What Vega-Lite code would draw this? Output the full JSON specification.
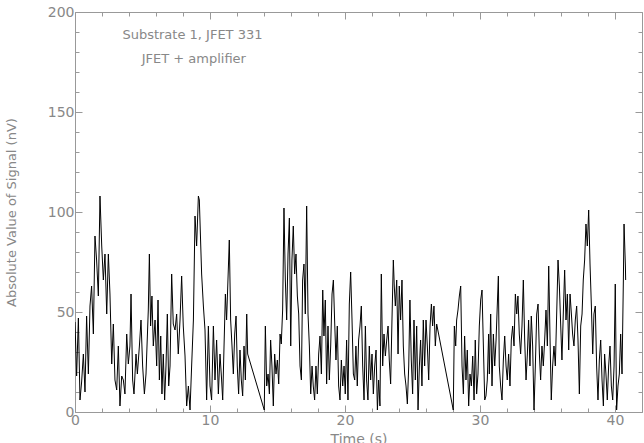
{
  "$schema": "https://vega.github.io/schema/vega-lite/v6.json",
  "width": 567,
  "height": 400,
  "autosize": {"type": "none"},
  "padding": {"left": 75, "top": 12, "right": 2, "bottom": 31},
  "background": "white",
  "config": {
    "view": {"stroke": null},
    "axis": {
      "domainColor": "#999999",
      "tickColor": "#999999",
      "labelColor": "#888888",
      "titleColor": "#888888",
      "labelFont": "DejaVu Sans",
      "titleFont": "DejaVu Sans",
      "labelFontSize": 14,
      "titleFontSize": 14,
      "titleFontWeight": "normal",
      "grid": false,
      "tickWidth": 1,
      "domainWidth": 1,
      "labelFlush": false,
      "labelOverlap": false
    }
  },
  "data": {
    "values": [
      {"t":0,"v":45},{"t":0.12,"v":18},{"t":0.25,"v":47},{"t":0.37,"v":6},{"t":0.49,"v":15},{"t":0.62,"v":29},{"t":0.74,"v":10},{"t":0.86,"v":48},{"t":0.99,"v":19},{"t":1.11,"v":53},{"t":1.23,"v":63},{"t":1.36,"v":39},{"t":1.48,"v":88},{"t":1.6,"v":76},{"t":1.73,"v":58},{"t":1.85,"v":108},{"t":1.98,"v":83},{"t":2.1,"v":66},{"t":2.22,"v":79},{"t":2.35,"v":49},{"t":2.47,"v":79},{"t":2.59,"v":59},{"t":2.72,"v":24},{"t":2.84,"v":44},{"t":2.96,"v":16},{"t":3.09,"v":11},{"t":3.21,"v":33},{"t":3.33,"v":3},{"t":3.46,"v":18},{"t":3.58,"v":16},{"t":3.7,"v":9},{"t":3.83,"v":39},{"t":3.95,"v":24},{"t":4.07,"v":33},{"t":4.15,"v":59},{"t":4.27,"v":16},{"t":4.37,"v":9},{"t":4.52,"v":29},{"t":4.62,"v":19},{"t":4.77,"v":33},{"t":4.89,"v":46},{"t":5.01,"v":23},{"t":5.14,"v":9},{"t":5.26,"v":19},{"t":5.43,"v":51},{"t":5.51,"v":79},{"t":5.6,"v":43},{"t":5.7,"v":58},{"t":5.8,"v":33},{"t":5.93,"v":46},{"t":6.05,"v":23},{"t":6.15,"v":56},{"t":6.25,"v":16},{"t":6.35,"v":38},{"t":6.44,"v":9},{"t":6.54,"v":29},{"t":6.64,"v":6},{"t":6.74,"v":23},{"t":6.84,"v":49},{"t":6.94,"v":13},{"t":7.04,"v":23},{"t":7.16,"v":69},{"t":7.28,"v":44},{"t":7.41,"v":41},{"t":7.53,"v":49},{"t":7.65,"v":29},{"t":7.78,"v":46},{"t":7.9,"v":68},{"t":8.02,"v":43},{"t":8.15,"v":28},{"t":8.27,"v":3},{"t":8.4,"v":13},{"t":8.52,"v":1},{"t":8.64,"v":23},{"t":8.77,"v":46},{"t":8.89,"v":98},{"t":9.01,"v":83},{"t":9.14,"v":108},{"t":9.21,"v":106},
      {"t":9.38,"v":69},{"t":9.51,"v":53},{"t":9.63,"v":41},{"t":9.75,"v":6},{"t":9.88,"v":43},{"t":10,"v":13},{"t":10.12,"v":6},{"t":10.25,"v":43},{"t":10.37,"v":16},{"t":10.49,"v":36},{"t":10.62,"v":9},{"t":10.74,"v":29},{"t":10.86,"v":16},{"t":10.94,"v":6},{"t":11.04,"v":33},{"t":11.14,"v":59},{"t":11.23,"v":46},{"t":11.33,"v":66},{"t":11.43,"v":86},{"t":11.53,"v":46},{"t":11.63,"v":33},{"t":11.73,"v":19},{"t":11.83,"v":39},{"t":11.93,"v":48},{"t":12.02,"v":23},{"t":12.12,"v":9},{"t":12.22,"v":31},{"t":12.32,"v":16},{"t":12.42,"v":8},{"t":12.52,"v":33},{"t":12.62,"v":16},{"t":12.72,"v":49},{"t":12.79,"v":29},{"t":14.02,"v":1},{"t":14.1,"v":43},{"t":14.2,"v":13},{"t":14.3,"v":19},{"t":14.4,"v":9},{"t":14.49,"v":36},{"t":14.59,"v":23},{"t":14.69,"v":3},{"t":14.79,"v":29},{"t":14.89,"v":19},{"t":14.99,"v":26},{"t":15.09,"v":14},{"t":15.19,"v":39},{"t":15.28,"v":34},{"t":15.38,"v":51},{"t":15.48,"v":102},{"t":15.58,"v":66},{"t":15.68,"v":46},{"t":15.78,"v":79},{"t":15.88,"v":97},{"t":15.98,"v":33},{"t":16.07,"v":76},{"t":16.17,"v":93},{"t":16.27,"v":69},{"t":16.37,"v":79},{"t":16.47,"v":58},{"t":16.57,"v":49},{"t":16.67,"v":23},{"t":16.77,"v":16},{"t":16.86,"v":66},{"t":16.96,"v":74},{"t":17.06,"v":49},{"t":17.16,"v":103},{"t":17.26,"v":49},{"t":17.36,"v":33},{"t":17.46,"v":9},{"t":17.56,"v":23},{"t":17.65,"v":13},{"t":17.75,"v":6},{"t":17.85,"v":23},{"t":17.95,"v":9},{"t":18.05,"v":29},{"t":18.15,"v":38},{"t":18.25,"v":19},{"t":18.35,"v":61},{"t":18.44,"v":38},{"t":18.54,"v":56},{"t":18.64,"v":14},{"t":18.74,"v":43},{"t":18.84,"v":16},{"t":18.94,"v":33},{"t":19.04,"v":59},{"t":19.14,"v":66},{"t":19.23,"v":46},{"t":19.33,"v":26},{"t":19.43,"v":43},{"t":19.53,"v":13},{"t":19.63,"v":6},{"t":19.73,"v":26},{"t":19.83,"v":13},{"t":19.93,"v":23},{"t":20.02,"v":9},{"t":20.12,"v":36},{"t":20.22,"v":6},{"t":20.32,"v":54},
      {"t":20.42,"v":70},{"t":20.52,"v":46},{"t":20.62,"v":19},{"t":20.72,"v":16},{"t":20.81,"v":33},{"t":20.91,"v":13},{"t":21.01,"v":36},{"t":21.11,"v":43},{"t":21.21,"v":53},{"t":21.31,"v":23},{"t":21.41,"v":6},{"t":21.51,"v":43},{"t":21.6,"v":16},{"t":21.7,"v":6},{"t":21.8,"v":33},{"t":21.9,"v":16},{"t":22,"v":29},{"t":22.1,"v":9},{"t":22.2,"v":23},{"t":22.3,"v":31},{"t":22.4,"v":1},{"t":22.49,"v":16},{"t":22.59,"v":3},{"t":22.69,"v":69},{"t":22.79,"v":23},{"t":22.89,"v":39},{"t":22.99,"v":28},{"t":23.09,"v":36},{"t":23.19,"v":43},{"t":23.28,"v":26},{"t":23.38,"v":14},{"t":23.48,"v":46},{"t":23.58,"v":76},{"t":23.65,"v":63},{"t":23.73,"v":53},{"t":23.83,"v":66},{"t":23.93,"v":29},{"t":24.02,"v":63},{"t":24.12,"v":46},{"t":24.22,"v":66},{"t":24.32,"v":33},{"t":24.42,"v":19},{"t":24.52,"v":13},{"t":24.62,"v":4},{"t":24.72,"v":23},{"t":24.81,"v":56},{"t":24.91,"v":26},{"t":25.01,"v":9},{"t":25.11,"v":46},{"t":25.21,"v":16},{"t":25.31,"v":43},{"t":25.41,"v":1},{"t":25.51,"v":23},{"t":25.6,"v":36},{"t":25.7,"v":13},{"t":25.8,"v":46},{"t":25.9,"v":23},{"t":26,"v":46},{"t":26.1,"v":33},{"t":26.2,"v":16},{"t":26.3,"v":43},{"t":26.4,"v":54},{"t":26.49,"v":43},{"t":26.59,"v":53},{"t":26.69,"v":33},{"t":26.79,"v":44},{"t":28.02,"v":1},{"t":28.1,"v":43},{"t":28.2,"v":33},{"t":28.27,"v":46},{"t":28.37,"v":51},{"t":28.47,"v":58},{"t":28.57,"v":63},{"t":28.67,"v":23},{"t":28.77,"v":9},{"t":28.86,"v":38},{"t":28.96,"v":16},{"t":29.06,"v":31},{"t":29.16,"v":3},{"t":29.26,"v":19},{"t":29.36,"v":13},{"t":29.46,"v":28},{"t":29.56,"v":6},{"t":29.65,"v":36},{"t":29.75,"v":9},{"t":29.85,"v":19},{"t":29.95,"v":43},{"t":30.05,"v":56},{"t":30.15,"v":61},{"t":30.25,"v":33},{"t":30.35,"v":6},{"t":30.44,"v":8},{"t":30.54,"v":16},{"t":30.64,"v":39},
      {"t":30.69,"v":19},{"t":30.79,"v":49},{"t":30.89,"v":13},{"t":30.99,"v":39},{"t":31.09,"v":23},{"t":31.19,"v":36},{"t":31.28,"v":53},{"t":31.36,"v":68},{"t":31.43,"v":23},{"t":31.53,"v":13},{"t":31.63,"v":6},{"t":31.73,"v":26},{"t":31.83,"v":38},{"t":31.93,"v":23},{"t":32.02,"v":16},{"t":32.12,"v":29},{"t":32.22,"v":13},{"t":32.32,"v":36},{"t":32.42,"v":43},{"t":32.52,"v":33},{"t":32.62,"v":59},{"t":32.72,"v":49},{"t":32.81,"v":58},{"t":32.91,"v":39},{"t":33.01,"v":29},{"t":33.11,"v":43},{"t":33.21,"v":66},{"t":33.31,"v":36},{"t":33.41,"v":16},{"t":33.51,"v":29},{"t":33.6,"v":46},{"t":33.7,"v":23},{"t":33.8,"v":48},{"t":33.9,"v":33},{"t":34,"v":1},{"t":34.1,"v":23},{"t":34.2,"v":49},{"t":34.3,"v":54},{"t":34.4,"v":29},{"t":34.49,"v":16},{"t":34.59,"v":33},{"t":34.69,"v":23},{"t":34.79,"v":36},{"t":34.89,"v":51},{"t":34.99,"v":33},{"t":35.09,"v":73},{"t":35.19,"v":36},{"t":35.28,"v":6},{"t":35.38,"v":23},{"t":35.48,"v":33},{"t":35.58,"v":23},{"t":35.68,"v":49},{"t":35.78,"v":76},{"t":35.88,"v":63},{"t":35.98,"v":43},{"t":36.07,"v":26},{"t":36.17,"v":49},{"t":36.27,"v":71},{"t":36.37,"v":46},{"t":36.47,"v":59},{"t":36.57,"v":31},{"t":36.67,"v":59},{"t":36.77,"v":49},{"t":36.86,"v":39},{"t":36.96,"v":33},{"t":37.06,"v":46},{"t":37.16,"v":53},{"t":37.26,"v":36},{"t":37.36,"v":9},{"t":37.46,"v":43},{"t":37.56,"v":49},{"t":37.65,"v":66},{"t":37.75,"v":76},{"t":37.85,"v":94},{"t":37.95,"v":83},{"t":38.05,"v":101},{"t":38.15,"v":74},{"t":38.25,"v":53},{"t":38.35,"v":29},{"t":38.44,"v":49},{"t":38.54,"v":53},{"t":38.64,"v":23},{"t":38.74,"v":6},{"t":38.84,"v":26},{"t":38.94,"v":36},{"t":39.04,"v":16},{"t":39.14,"v":3},{"t":39.23,"v":29},{"t":39.33,"v":19},{"t":39.43,"v":6},{"t":39.53,"v":23},{"t":39.63,"v":33},{"t":39.73,"v":13},{"t":39.83,"v":6},{"t":39.93,"v":23},{"t":40.02,"v":64},{"t":40.12,"v":1},{"t":40.22,"v":13},{"t":40.32,"v":19},{"t":40.42,"v":39},{"t":40.52,"v":19},{"t":40.62,"v":66},{"t":40.67,"v":94},{"t":40.77,"v":73},{"t":40.79,"v":66}
    ]
  },
  "layer": [
    {
      "mark": {"type": "line", "color": "#000000", "strokeWidth": 1, "clip": true},
      "encoding": {
        "x": {
          "field": "t", "type": "quantitative",
          "scale": {"domain": [0, 42], "nice": false, "zero": false},
          "axis": {
            "orient": "bottom",
            "values": [0,2,4,6,8,10,12,14,16,18,20,22,24,26,28,30,32,34,36,38,40,42],
            "tickSize": {"condition": {"test": "datum.value % 10 === 0", "value": -7}, "value": -4},
            "labelExpr": "datum.value % 10 === 0 ? datum.label : ''",
            "labelPadding": 8,
            "title": "Time (s)",
            "titlePadding": 2
          }
        },
        "y": {
          "field": "v", "type": "quantitative",
          "scale": {"domain": [0, 200], "nice": false},
          "axis": {
            "orient": "left",
            "values": [0,10,20,30,40,50,60,70,80,90,100,110,120,130,140,150,160,170,180,190,200],
            "tickSize": {"condition": {"test": "datum.value % 50 === 0", "value": -7}, "value": -4},
            "labelExpr": "datum.value % 50 === 0 ? datum.label : ''",
            "labelPadding": 8,
            "title": "Absolute Value of Signal (nV)",
            "titleFontSize": 13,
            "titlePadding": 29
          }
        }
      }
    },
    {
      "mark": {"type": "line", "opacity": 0},
      "encoding": {
        "x": {
          "field": "t", "type": "quantitative",
          "axis": {
            "orient": "top",
            "values": [0,2,4,6,8,10,12,14,16,18,20,22,24,26,28,30,32,34,36,38,40,42],
            "tickSize": {"condition": {"test": "datum.value % 10 === 0", "value": -7}, "value": -4},
            "labels": false,
            "title": null
          }
        },
        "y": {
          "field": "v", "type": "quantitative",
          "axis": {
            "orient": "right",
            "values": [0,10,20,30,40,50,60,70,80,90,100,110,120,130,140,150,160,170,180,190,200],
            "tickSize": {"condition": {"test": "datum.value % 50 === 0", "value": -7}, "value": -4},
            "labels": false,
            "title": null
          }
        }
      }
    },
    {
      "data": {"values": [{"note": "Substrate 1, JFET 331"}]},
      "mark": {"type": "text", "fontSize": 13, "color": "#888888", "font": "DejaVu Sans"},
      "encoding": {
        "x": {"datum": 8.7, "type": "quantitative", "axis": null},
        "y": {"datum": 188.5, "type": "quantitative", "axis": null},
        "text": {"field": "note"}
      }
    },
    {
      "data": {"values": [{"note": "JFET + amplifier"}]},
      "mark": {"type": "text", "fontSize": 13, "color": "#888888", "font": "DejaVu Sans"},
      "encoding": {
        "x": {"datum": 8.8, "type": "quantitative", "axis": null},
        "y": {"datum": 176.5, "type": "quantitative", "axis": null},
        "text": {"field": "note"}
      }
    }
  ],
  "resolve": {"axis": {"x": "independent", "y": "independent"}}
}
